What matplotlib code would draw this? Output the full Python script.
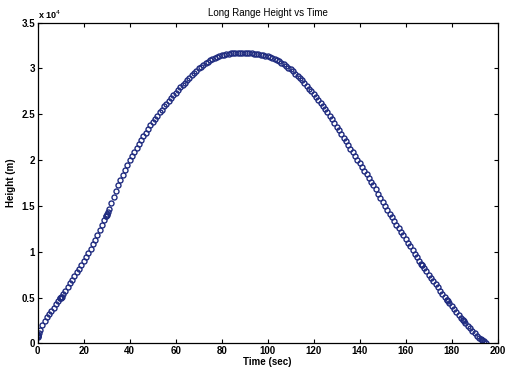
import numpy as np
import matplotlib
matplotlib.use("Agg")
import matplotlib.pyplot as plt

# time samples (sec), one per second
time_sec = np.arange(0, 196)

# height (m), one value per second
height_m = [
    900, 1450, 1950, 2450, 2850, 3200, 3550, 3900, 4250, 4600,
    4950, 5350, 5750, 6150, 6550, 6950, 7350, 7750, 8150, 8550,
    8950, 9400, 9850, 10300, 10800, 11300, 11850, 12400, 12950, 13500,
    14050, 14700, 15350, 15950, 16650, 17250, 17850, 18400, 18950, 19500,
    20000, 20450, 20900, 21350, 21800, 22200, 22600, 23000, 23400, 23800,
    24150, 24500, 24850, 25200, 25500, 25850, 26150, 26450, 26750, 27050,
    27350, 27650, 27950, 28200, 28450, 28700, 29000, 29250, 29500, 29750,
    30000, 30200, 30400, 30600, 30750, 30900, 31050, 31150, 31250, 31350,
    31450, 31500, 31550, 31600, 31650, 31680, 31700, 31720, 31730, 31730,
    31720, 31700, 31680, 31650, 31620, 31580, 31530, 31500, 31450, 31400,
    31330, 31250, 31150, 31050, 30950, 30800, 30650, 30500, 30300, 30100,
    29900, 29700, 29450, 29200, 28950, 28700, 28400, 28100, 27800, 27500,
    27200, 26900, 26600, 26250, 25900, 25550, 25200, 24850, 24450, 24050,
    23650, 23250, 22850, 22450, 22050, 21650, 21250, 20850, 20450, 20050,
    19650, 19250, 18850, 18450, 18050, 17650, 17250, 16800, 16350, 15900,
    15450, 15000, 14550, 14150, 13750, 13350, 12950, 12550, 12150, 11800,
    11400, 11000, 10600, 10200, 9800, 9400, 9000, 8600, 8200, 7850,
    7500, 7150, 6800, 6450, 6100, 5750, 5400, 5050, 4700, 4400,
    4100, 3750, 3450, 3100, 2800, 2500, 2200, 1900, 1620, 1350,
    1100, 850, 620, 400, 200, 20,
]

# extra samples where the solver took small steps (dark clusters)
extra_t = [0.1, 0.2, 0.3, 0.5, 9.6, 9.8, 10.2, 10.4, 29.6, 29.8, 30.2, 30.4,
           166.8, 167.2, 177.8, 178.2, 184.8, 185.2, 192.8, 193.2]
extra_h = [650, 750, 850, 1150, 4900, 4950, 5050, 5100, 13900, 13950, 14150, 14300,
           8650, 8500, 4750, 4650, 2530, 2450, 450, 350]

xticks = [0, 20, 40, 60, 80, 100, 120, 140, 160, 180, 200]
yticks = [0, 5000, 10000, 15000, 20000, 25000, 30000, 35000]
ytick_labels = ['0', '0.5', '1', '1.5', '2', '2.5', '3', '3.5']

plt.rcParams['font.family'] = ['Liberation Sans', 'DejaVu Sans']

fig = plt.figure(figsize=(5.06, 3.69), dpi=100)
ax = fig.add_axes([0.0745, 0.0696, 0.909, 0.869])

mk = dict(linestyle='none', marker='o', markersize=3.6, markerfacecolor='none',
          markeredgecolor='#202c80', markeredgewidth=1.0)
ax.plot(time_sec, height_m, **mk)
ax.plot(extra_t, extra_h, **mk)

ax.set_xlim(0, 200)
ax.set_ylim(0, 35000)
ax.set_xticks(xticks)
ax.set_xticklabels([str(v) for v in xticks])
ax.set_yticks(yticks)
ax.set_yticklabels(ytick_labels)
ax.tick_params(direction='in', length=3, width=0.8, top=True, right=True,
               labelsize=7, pad=2)
for lab in ax.get_xticklabels() + ax.get_yticklabels():
    lab.set_fontweight('bold')
for s in ax.spines.values():
    s.set_linewidth(0.9)

ax.text(0.0, 1.005, r'x 10$^4$', transform=ax.transAxes, fontsize=6.5,
        fontweight='bold', va='bottom', ha='left')
ax.set_title('Long Range Height vs Time', fontsize=7, pad=5)
ax.set_xlabel('Time (sec)', fontsize=7, fontweight='bold', labelpad=1)
ax.set_ylabel('Height (m)', fontsize=7, fontweight='bold', labelpad=4)

fig.savefig('out.png', dpi=100)
